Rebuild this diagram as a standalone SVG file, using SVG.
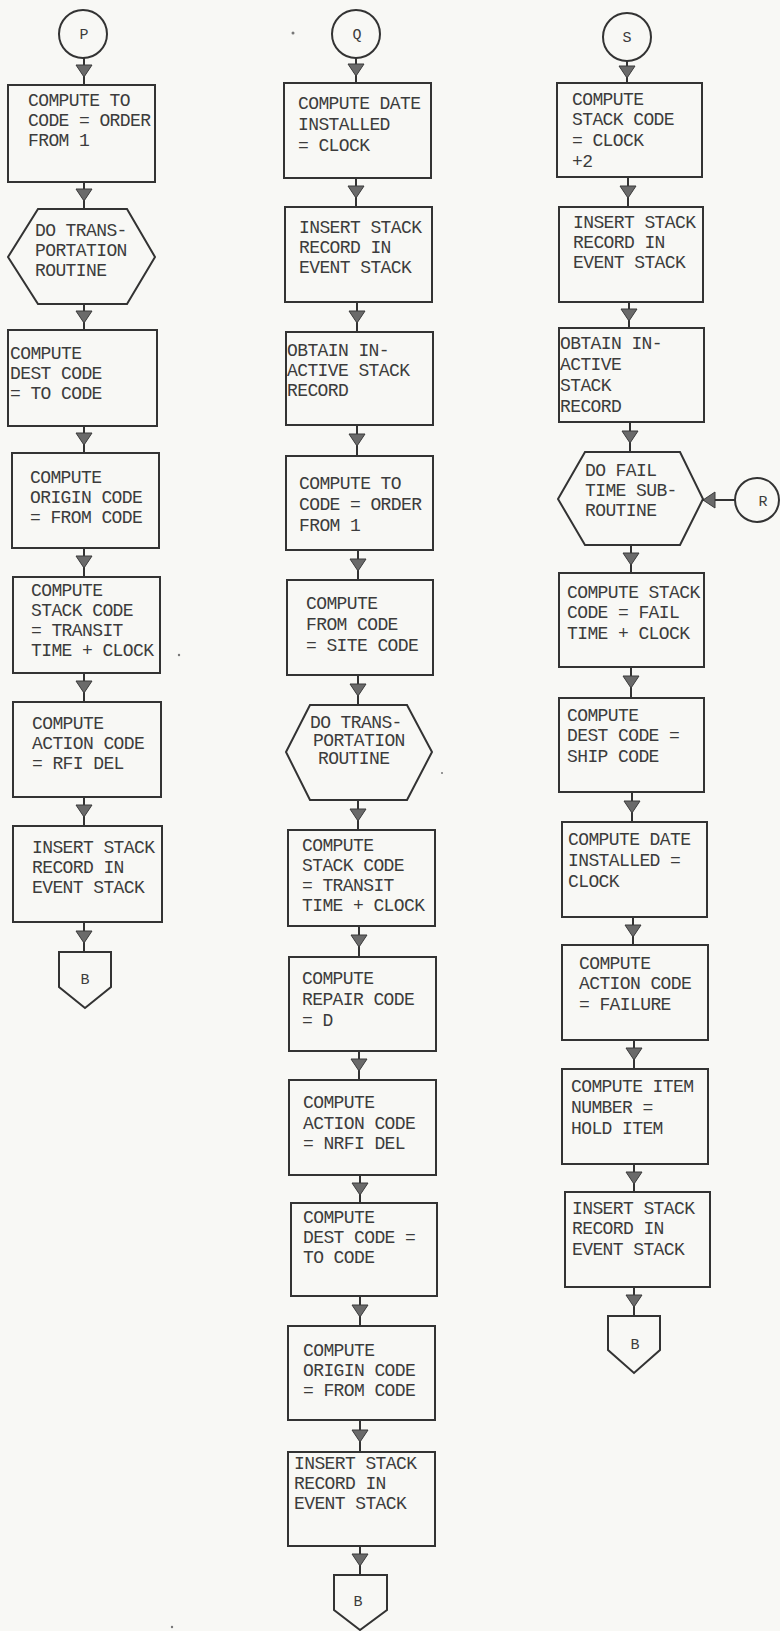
<svg xmlns="http://www.w3.org/2000/svg" xmlns:xlink="http://www.w3.org/1999/xlink" width="780" height="1631" viewBox="0 0 780 1631">
  <style>
    .box { fill: none; stroke: #333; stroke-width: 2; }
    .conn { stroke: #333; stroke-width: 2; fill: none; }
    .head { fill: #6a6a6a; stroke: #3a3a3a; stroke-width: 1; }
    .lbl { font-family: "Liberation Mono", "DejaVu Sans Mono", monospace; font-size: 18px; letter-spacing: -0.6px; fill: #3c3c3c; }
    .ltr { font-family: "Liberation Mono", "DejaVu Sans Mono", monospace; font-size: 15px; fill: #3c3c3c; text-anchor: middle; }
    .speck { fill: #777; }
  </style>
  <defs>
    <path id="ah" class="head" d="M-8,-6 L8,-6 L0,6 Z"/>
    <path id="ahl" class="head" d="M6,-8 L6,8 L-6,0 Z"/>
  </defs>
  <rect width="780" height="1631" fill="#f8f8f5"/>

  <!-- connectors -->
  <g id="connectors">
    <!-- left column -->
    <path class="conn" d="M84,58 V85 M84,182 V209 M84,304 V330 M84,426 V453 M84,548 V577 M84,673 V702 M84,797 V826 M84,922 V952"/>
    <use xlink:href="#ah" x="84" y="71"/>
    <use xlink:href="#ah" x="84" y="195"/>
    <use xlink:href="#ah" x="84" y="317"/>
    <use xlink:href="#ah" x="84" y="439"/>
    <use xlink:href="#ah" x="84" y="562"/>
    <use xlink:href="#ah" x="84" y="687"/>
    <use xlink:href="#ah" x="84" y="811"/>
    <use xlink:href="#ah" x="84" y="937"/>
    <!-- middle column -->
    <path class="conn" d="M356,58 V83 M356,178 V207 M357,302 V332 M357,425 V456 M358,550 V580 M358,675 V705 M358,800 V830 M359,926 V957 M359,1051 V1080 M360,1175 V1203 M360,1296 V1326 M360,1420 V1452 M360,1546 V1575"/>
    <use xlink:href="#ah" x="356" y="70"/>
    <use xlink:href="#ah" x="356" y="192"/>
    <use xlink:href="#ah" x="357" y="317"/>
    <use xlink:href="#ah" x="357" y="440"/>
    <use xlink:href="#ah" x="358" y="565"/>
    <use xlink:href="#ah" x="358" y="690"/>
    <use xlink:href="#ah" x="358" y="815"/>
    <use xlink:href="#ah" x="359" y="941"/>
    <use xlink:href="#ah" x="359" y="1065"/>
    <use xlink:href="#ah" x="360" y="1189"/>
    <use xlink:href="#ah" x="360" y="1311"/>
    <use xlink:href="#ah" x="360" y="1436"/>
    <use xlink:href="#ah" x="360" y="1560"/>
    <!-- right column -->
    <path class="conn" d="M627,61 V83 M628,177 V207 M629,302 V328 M630,422 V452 M631,545 V573 M631,667 V698 M632,792 V822 M633,917 V945 M634,1040 V1069 M634,1164 V1192 M634,1287 V1316"/>
    <use xlink:href="#ah" x="627" y="72"/>
    <use xlink:href="#ah" x="628" y="192"/>
    <use xlink:href="#ah" x="629" y="315"/>
    <use xlink:href="#ah" x="630" y="437"/>
    <use xlink:href="#ah" x="631" y="559"/>
    <use xlink:href="#ah" x="631" y="682"/>
    <use xlink:href="#ah" x="632" y="807"/>
    <use xlink:href="#ah" x="633" y="931"/>
    <use xlink:href="#ah" x="634" y="1054"/>
    <use xlink:href="#ah" x="634" y="1178"/>
    <use xlink:href="#ah" x="634" y="1301"/>
    <!-- R into fail time subroutine -->
    <path class="conn" d="M735,500 H703"/>
    <use xlink:href="#ahl" x="709" y="500"/>
  </g>

  <!-- left column: P -->
  <g id="P">
    <circle class="box" cx="83" cy="34" r="24"/>
    <text class="ltr" x="84" y="39">P</text>
  </g>
  <g id="L1">
    <rect class="box" x="8" y="85" width="147" height="97"/>
    <text class="lbl" x="28" y="106"><tspan x="28">COMPUTE TO</tspan><tspan x="28" dy="20">CODE = ORDER</tspan><tspan x="28" dy="20">FROM 1</tspan></text>
  </g>
  <g id="L2">
    <polygon class="box" points="38,209 127,209 155,257 127,304 38,304 8,257"/>
    <text class="lbl" x="35" y="236"><tspan x="35">DO TRANS-</tspan><tspan x="35" dy="20">PORTATION</tspan><tspan x="35" dy="20">ROUTINE</tspan></text>
  </g>
  <g id="L3">
    <rect class="box" x="8" y="330" width="149" height="96"/>
    <text class="lbl" x="10" y="359"><tspan x="10">COMPUTE</tspan><tspan x="10" dy="20">DEST CODE</tspan><tspan x="10" dy="20">= TO CODE</tspan></text>
  </g>
  <g id="L4">
    <rect class="box" x="12" y="453" width="147" height="95"/>
    <text class="lbl" x="30" y="483"><tspan x="30">COMPUTE</tspan><tspan x="30" dy="20">ORIGIN CODE</tspan><tspan x="30" dy="20">= FROM CODE</tspan></text>
  </g>
  <g id="L5">
    <rect class="box" x="13" y="577" width="147" height="96"/>
    <text class="lbl" x="31" y="596"><tspan x="31">COMPUTE</tspan><tspan x="31" dy="20">STACK CODE</tspan><tspan x="31" dy="20">= TRANSIT</tspan><tspan x="31" dy="20">TIME + CLOCK</tspan></text>
  </g>
  <g id="L6">
    <rect class="box" x="13" y="702" width="148" height="95"/>
    <text class="lbl" x="32" y="729"><tspan x="32">COMPUTE</tspan><tspan x="32" dy="20">ACTION CODE</tspan><tspan x="32" dy="20">= RFI DEL</tspan></text>
  </g>
  <g id="L7">
    <rect class="box" x="13" y="826" width="149" height="96"/>
    <text class="lbl" x="32" y="853"><tspan x="32">INSERT STACK</tspan><tspan x="32" dy="20">RECORD IN</tspan><tspan x="32" dy="20">EVENT STACK</tspan></text>
  </g>
  <g id="LB">
    <polygon class="box" points="59,952 111,952 111,987 85,1008 59,987"/>
    <text class="ltr" x="85" y="984">B</text>
  </g>

  <!-- middle column: Q -->
  <g id="Q">
    <circle class="box" cx="356" cy="34" r="24"/>
    <text class="ltr" x="357" y="39">Q</text>
  </g>
  <g id="M1">
    <rect class="box" x="284" y="83" width="147" height="95"/>
    <text class="lbl" x="298" y="109"><tspan x="298">COMPUTE DATE</tspan><tspan x="298" dy="21">INSTALLED</tspan><tspan x="298" dy="21">= CLOCK</tspan></text>
  </g>
  <g id="M2">
    <rect class="box" x="285" y="207" width="147" height="95"/>
    <text class="lbl" x="299" y="233"><tspan x="299">INSERT STACK</tspan><tspan x="299" dy="20">RECORD IN</tspan><tspan x="299" dy="20">EVENT STACK</tspan></text>
  </g>
  <g id="M3">
    <rect class="box" x="286" y="332" width="147" height="93"/>
    <text class="lbl" x="287" y="356"><tspan x="287">OBTAIN IN-</tspan><tspan x="287" dy="20">ACTIVE STACK</tspan><tspan x="287" dy="20">RECORD</tspan></text>
  </g>
  <g id="M4">
    <rect class="box" x="286" y="456" width="147" height="94"/>
    <text class="lbl" x="299" y="489"><tspan x="299">COMPUTE TO</tspan><tspan x="299" dy="21">CODE = ORDER</tspan><tspan x="299" dy="21">FROM 1</tspan></text>
  </g>
  <g id="M5">
    <rect class="box" x="287" y="580" width="146" height="95"/>
    <text class="lbl" x="306" y="609"><tspan x="306">COMPUTE</tspan><tspan x="306" dy="21">FROM CODE</tspan><tspan x="306" dy="21">= SITE CODE</tspan></text>
  </g>
  <g id="M6">
    <polygon class="box" points="310,705 407,705 432,752 407,800 310,800 286,752"/>
    <text class="lbl" x="310" y="728"><tspan x="310">DO TRANS-</tspan><tspan x="313" dy="18">PORTATION</tspan><tspan x="318" dy="18">ROUTINE</tspan></text>
  </g>
  <g id="M7">
    <rect class="box" x="288" y="830" width="147" height="96"/>
    <text class="lbl" x="302" y="851"><tspan x="302">COMPUTE</tspan><tspan x="302" dy="20">STACK CODE</tspan><tspan x="302" dy="20">= TRANSIT</tspan><tspan x="302" dy="20">TIME + CLOCK</tspan></text>
  </g>
  <g id="M8">
    <rect class="box" x="289" y="957" width="147" height="94"/>
    <text class="lbl" x="302" y="984"><tspan x="302">COMPUTE</tspan><tspan x="302" dy="21">REPAIR CODE</tspan><tspan x="302" dy="21">= D</tspan></text>
  </g>
  <g id="M9">
    <rect class="box" x="289" y="1080" width="147" height="95"/>
    <text class="lbl" x="303" y="1108"><tspan x="303">COMPUTE</tspan><tspan x="303" dy="21">ACTION CODE</tspan><tspan x="303" dy="20">= NRFI DEL</tspan></text>
  </g>
  <g id="M10">
    <rect class="box" x="291" y="1203" width="146" height="93"/>
    <text class="lbl" x="303" y="1223"><tspan x="303">COMPUTE</tspan><tspan x="303" dy="20">DEST CODE =</tspan><tspan x="303" dy="20">TO CODE</tspan></text>
  </g>
  <g id="M11">
    <rect class="box" x="288" y="1326" width="147" height="94"/>
    <text class="lbl" x="303" y="1356"><tspan x="303">COMPUTE</tspan><tspan x="303" dy="20">ORIGIN CODE</tspan><tspan x="303" dy="20">= FROM CODE</tspan></text>
  </g>
  <g id="M12">
    <rect class="box" x="288" y="1452" width="147" height="94"/>
    <text class="lbl" x="294" y="1469"><tspan x="294">INSERT STACK</tspan><tspan x="294" dy="20">RECORD IN</tspan><tspan x="294" dy="20">EVENT STACK</tspan></text>
  </g>
  <g id="MB">
    <polygon class="box" points="334,1575 387,1575 387,1610 360,1630 334,1610"/>
    <text class="ltr" x="358" y="1606">B</text>
  </g>

  <!-- right column: S -->
  <g id="S">
    <circle class="box" cx="627" cy="37" r="24"/>
    <text class="ltr" x="627" y="42">S</text>
  </g>
  <g id="R1">
    <rect class="box" x="557" y="83" width="145" height="94"/>
    <text class="lbl" x="572" y="105"><tspan x="572">COMPUTE</tspan><tspan x="572" dy="20">STACK CODE</tspan><tspan x="572" dy="21">= CLOCK</tspan><tspan x="572" dy="21">+2</tspan></text>
  </g>
  <g id="R2">
    <rect class="box" x="559" y="207" width="144" height="95"/>
    <text class="lbl" x="573" y="228"><tspan x="573">INSERT STACK</tspan><tspan x="573" dy="20">RECORD IN</tspan><tspan x="573" dy="20">EVENT STACK</tspan></text>
  </g>
  <g id="R3">
    <rect class="box" x="559" y="328" width="145" height="94"/>
    <text class="lbl" x="560" y="349"><tspan x="560">OBTAIN IN-</tspan><tspan x="560" dy="21">ACTIVE</tspan><tspan x="560" dy="21">STACK</tspan><tspan x="560" dy="21">RECORD</tspan></text>
  </g>
  <g id="R4">
    <polygon class="box" points="585,452 680,452 703,499 680,545 585,545 558,499"/>
    <text class="lbl" x="585" y="476"><tspan x="585">DO FAIL</tspan><tspan x="585" dy="20">TIME SUB-</tspan><tspan x="585" dy="20">ROUTINE</tspan></text>
  </g>
  <g id="R">
    <circle class="box" cx="757" cy="500" r="22"/>
    <text class="ltr" x="763" y="506">R</text>
  </g>
  <g id="R5">
    <rect class="box" x="559" y="573" width="145" height="94"/>
    <text class="lbl" x="567" y="598"><tspan x="567">COMPUTE STACK</tspan><tspan x="567" dy="20">CODE = FAIL</tspan><tspan x="567" dy="21">TIME + CLOCK</tspan></text>
  </g>
  <g id="R6">
    <rect class="box" x="559" y="698" width="145" height="94"/>
    <text class="lbl" x="567" y="721"><tspan x="567">COMPUTE</tspan><tspan x="567" dy="20">DEST CODE =</tspan><tspan x="567" dy="21">SHIP CODE</tspan></text>
  </g>
  <g id="R7">
    <rect class="box" x="562" y="822" width="145" height="95"/>
    <text class="lbl" x="568" y="845"><tspan x="568">COMPUTE DATE</tspan><tspan x="568" dy="21">INSTALLED =</tspan><tspan x="568" dy="21">CLOCK</tspan></text>
  </g>
  <g id="R8">
    <rect class="box" x="562" y="945" width="146" height="95"/>
    <text class="lbl" x="579" y="969"><tspan x="579">COMPUTE</tspan><tspan x="579" dy="20">ACTION CODE</tspan><tspan x="579" dy="21">= FAILURE</tspan></text>
  </g>
  <g id="R9">
    <rect class="box" x="562" y="1069" width="146" height="95"/>
    <text class="lbl" x="571" y="1092"><tspan x="571">COMPUTE ITEM</tspan><tspan x="571" dy="21">NUMBER =</tspan><tspan x="571" dy="21">HOLD ITEM</tspan></text>
  </g>
  <g id="R10">
    <rect class="box" x="565" y="1192" width="145" height="95"/>
    <text class="lbl" x="572" y="1214"><tspan x="572">INSERT STACK</tspan><tspan x="572" dy="20">RECORD IN</tspan><tspan x="572" dy="21">EVENT STACK</tspan></text>
  </g>
  <g id="RB">
    <polygon class="box" points="608,1316 660,1316 660,1350 634,1373 608,1350"/>
    <text class="ltr" x="635" y="1349">B</text>
  </g>

  <!-- stray marks on the sheet -->
  <g id="specks">
    <circle class="speck" cx="293" cy="33" r="1.5"/>
    <circle class="speck" cx="442" cy="773" r="1"/>
    <circle class="speck" cx="179" cy="655" r="1.2"/>
    <circle class="speck" cx="172" cy="1627" r="1.2"/>
  </g>
</svg>
